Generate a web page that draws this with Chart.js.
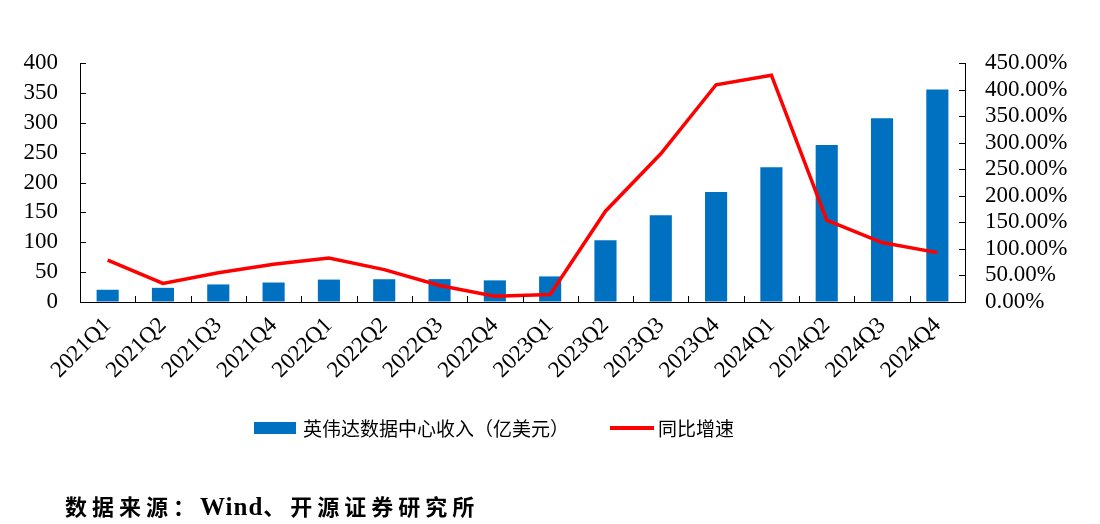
<!DOCTYPE html>
<html>
<head>
<meta charset="utf-8">
<script src="https://cdn.jsdelivr.net/npm/chart.js@4"></script>
<style>
  html, body { margin: 0; padding: 0; background: #fff; }
  #wrap { position: relative; width: 1100px; height: 524px; }
  #c { position: absolute; left: 0; top: 0; }
  .lg { position: absolute; font-family: "Noto Sans CJK SC", sans-serif; font-size: 19px; color: #000; white-space: nowrap; }
  #footer { position: absolute; left: 65px; top: 489px; font-family: "Noto Sans CJK SC", sans-serif; font-weight: bold; font-size: 22px; letter-spacing: 5px; color: #000; white-space: nowrap; }
  #footer .w { font-family: "Liberation Serif", serif; font-size: 25px; letter-spacing: 1px; }
</style>
</head>
<body>
<div id="wrap">
  <canvas id="c" width="1100" height="524"></canvas>
  <div style="position:absolute;left:254px;top:422px;width:42px;height:12px;background:#0070C0;"></div>
  <div class="lg" style="left:303px;top:414px;">英伟达数据中心收入（亿美元）</div>
  <div style="position:absolute;left:610px;top:426px;width:44px;height:4px;background:#FF0000;"></div>
  <div class="lg" style="left:658px;top:414px;">同比增速</div>
  <div id="footer">数据来源：<span class="w">Wind</span>、开源证券研究所</div>
</div>
<script>
const categories = ["2021Q1","2021Q2","2021Q3","2021Q4","2022Q1","2022Q2","2022Q3","2022Q4","2023Q1","2023Q2","2023Q3","2023Q4","2024Q1","2024Q2","2024Q3","2024Q4"];
const revenue = [20.5, 23.7, 29.4, 32.6, 37.5, 38.1, 38.3, 36.2, 42.8, 103.2, 145.1, 184.0, 225.6, 262.7, 307.7, 355.8];
const growth = [79, 35, 55, 71, 83, 61, 31, 11, 14, 171, 279, 409, 427, 154, 112, 93];
const leftTicks = [0, 50, 100, 150, 200, 250, 300, 350, 400];
const rightTicks = [0, 50, 100, 150, 200, 250, 300, 350, 400, 450];

const serif = "'Liberation Serif', 'Times New Roman', serif";
Chart.defaults.font.family = serif;
Chart.defaults.color = "#000";

const innerTicks = {
  id: 'innerTicks',
  afterDraw(chart) {
    const ctx = chart.ctx;
    const x = chart.scales.x, y = chart.scales.y, y1 = chart.scales.y1;
    ctx.save();
    ctx.strokeStyle = "#000";
    ctx.lineWidth = 1;
    ctx.beginPath();
    y.ticks.forEach(t => {
      const p = Math.round(y.getPixelForValue(t.value)) + 0.5;
      ctx.moveTo(y.right, p); ctx.lineTo(y.right + 6, p);
    });
    y1.ticks.forEach(t => {
      const p = Math.round(y1.getPixelForValue(t.value)) + 0.5;
      ctx.moveTo(y1.left, p); ctx.lineTo(y1.left - 6, p);
    });
    const half = (x.getPixelForValue(1) - x.getPixelForValue(0)) / 2;
    for (let i = 0; i <= categories.length; i++) {
      const p = Math.round(x.getPixelForValue(i) - half) + 0.5;
      ctx.moveTo(p, x.top); ctx.lineTo(p, x.top - 6);
    }
    ctx.stroke();
    ctx.restore();
  }
};

new Chart(document.getElementById('c'), {
  data: {
    labels: categories,
    datasets: [
      { type: 'line', label: '同比增速', data: growth, yAxisID: 'y1', borderColor: '#FF0000', backgroundColor: '#FF0000', borderWidth: 3.5, pointRadius: 0, tension: 0, order: 0 },
      { type: 'bar', label: '英伟达数据中心收入（亿美元）', data: revenue, yAxisID: 'y', backgroundColor: '#0070C0', categoryPercentage: 1, barPercentage: 0.4, order: 1 }
    ]
  },
  options: {
    responsive: false,
    animation: false,
    layout: { padding: { top: 63, bottom: 137, left: 0, right: 0 } },
    plugins: { legend: { display: false }, tooltip: { enabled: false } },
    scales: {
      x: {
        offset: true,
        grid: { display: false, drawTicks: false },
        border: { display: true, color: '#000', width: 1 },
        ticks: { minRotation: 45, maxRotation: 45, autoSkip: false, font: { size: 23 }, padding: 10 },
        afterFit(s) { s.height = 85; }
      },
      y: {
        position: 'left', min: 0, max: 400,
        grid: { drawOnChartArea: false, drawTicks: false },
        border: { display: true, color: '#000', width: 1 },
        afterBuildTicks(s) { s.ticks = leftTicks.map(v => ({ value: v })); },
        ticks: { autoSkip: false, font: { size: 23 }, padding: 22 },
        afterFit(s) { s.width = 80; }
      },
      y1: {
        position: 'right', min: 0, max: 450,
        grid: { drawOnChartArea: false, drawTicks: false },
        border: { display: true, color: '#000', width: 1 },
        afterBuildTicks(s) { s.ticks = rightTicks.map(v => ({ value: v })); },
        ticks: { autoSkip: false, font: { size: 23 }, padding: 20, callback: v => v.toFixed(2) + '%' },
        afterFit(s) { s.width = 135; }
      }
    }
  },
  plugins: [innerTicks]
});
</script>
</body>
</html>
